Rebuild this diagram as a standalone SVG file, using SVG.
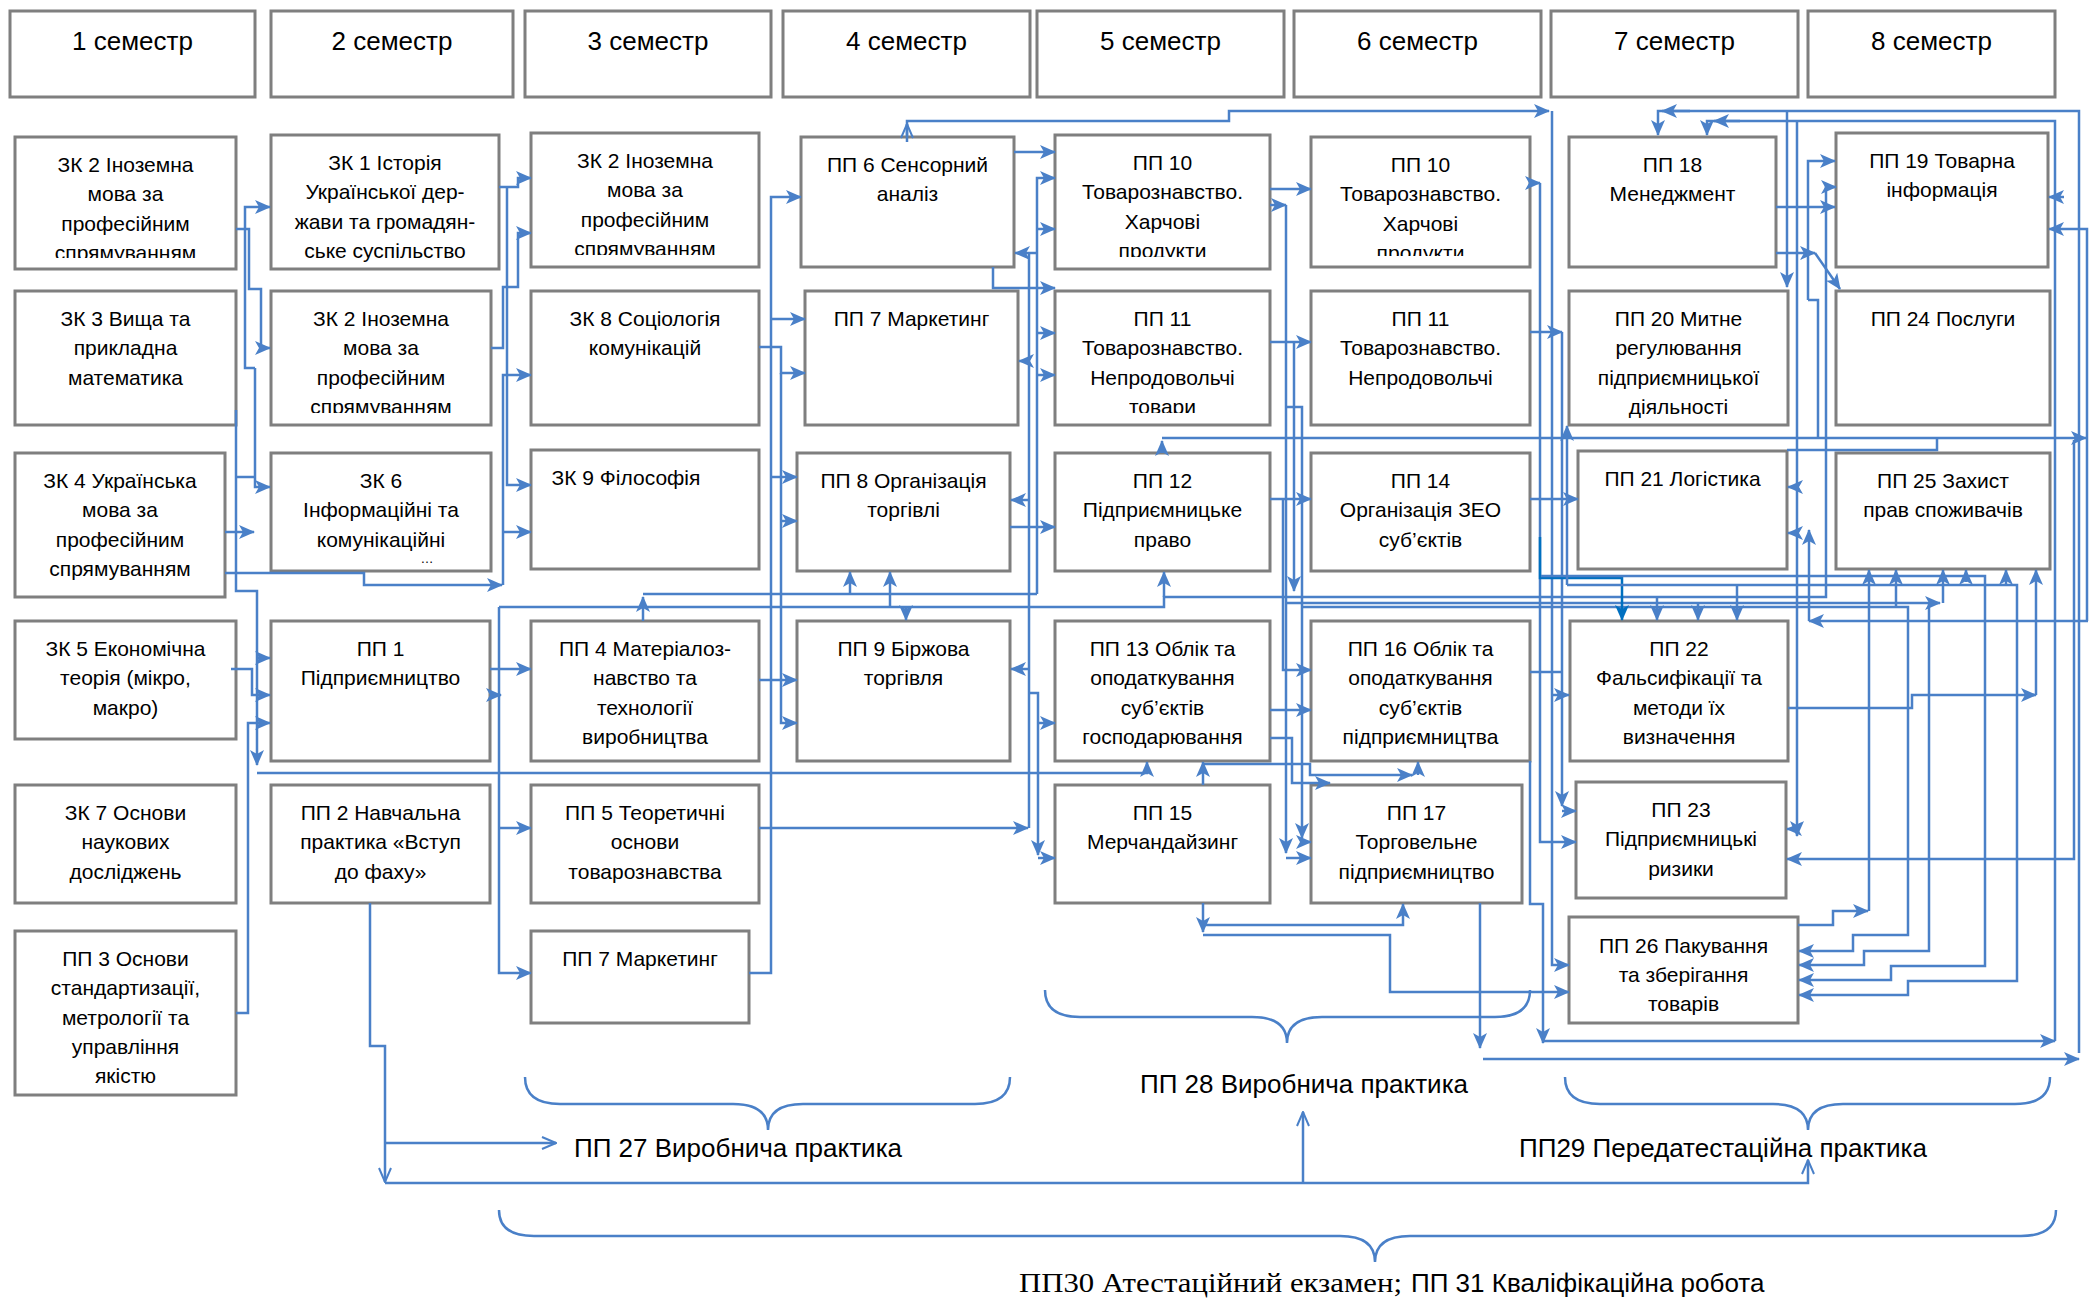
<svg xmlns="http://www.w3.org/2000/svg" width="2089" height="1298" viewBox="0 0 2089 1298">
<style>
.b{fill:#fff;stroke:#7f7f7f;stroke-width:3}
.t{font-family:"Liberation Sans",Arial,sans-serif;font-size:21px;text-anchor:middle;fill:#000}
.h{font-family:"Liberation Sans",Arial,sans-serif;font-size:26px;text-anchor:middle;fill:#000}
.lab{font-family:"Liberation Sans",Arial,sans-serif;font-size:26px;fill:#000}
.c{fill:none;stroke:#4a80c8;stroke-width:2.5;marker-end:url(#a)}
.l{fill:none;stroke:#4a80c8;stroke-width:2.5}
.co{fill:none;stroke:#4a80c8;stroke-width:2.5;marker-end:url(#o)}
.cd{fill:none;stroke:#0070c0;stroke-width:2.5;marker-end:url(#ad)}
.br{fill:none;stroke:#4a80c8;stroke-width:2.5}
</style>
<defs>
<marker id="a" viewBox="0 0 16 14" refX="15" refY="7" markerWidth="16" markerHeight="14" markerUnits="userSpaceOnUse" orient="auto"><path d="M0,0 L16,7 L0,14 L4,7 z" fill="#4a80c8"/></marker>
<marker id="ad" viewBox="0 0 16 14" refX="15" refY="7" markerWidth="16" markerHeight="14" markerUnits="userSpaceOnUse" orient="auto"><path d="M0,0 L16,7 L0,14 L4,7 z" fill="#0070c0"/></marker>
<marker id="o" viewBox="0 0 16 14" refX="15" refY="7" markerWidth="16" markerHeight="14" markerUnits="userSpaceOnUse" orient="auto"><path d="M1,1 L15,7 L1,13" fill="none" stroke="#4a80c8" stroke-width="2"/></marker>
<clipPath id="k1"><rect x="15" y="137" width="221" height="121"/></clipPath>
<clipPath id="k8"><rect x="271" y="291" width="220" height="122"/></clipPath>
<clipPath id="k12"><rect x="531" y="133" width="228" height="122"/></clipPath>
<clipPath id="k22"><rect x="1055" y="135" width="215" height="122"/></clipPath>
<clipPath id="k23"><rect x="1055" y="291" width="215" height="122"/></clipPath>
<clipPath id="k27"><rect x="1311" y="137" width="219" height="119"/></clipPath>
</defs>
<rect width="2089" height="1298" fill="#fff"/>

<g id="semesters">
<g id="s1"><rect class="b" x="10" y="11" width="245" height="86"/><text class="h" x="132.5" y="50">1 семестр</text></g>
<g id="s2"><rect class="b" x="271" y="11" width="242" height="86"/><text class="h" x="392" y="50">2 семестр</text></g>
<g id="s3"><rect class="b" x="525" y="11" width="246" height="86"/><text class="h" x="648" y="50">3 семестр</text></g>
<g id="s4"><rect class="b" x="783" y="11" width="247" height="86"/><text class="h" x="906.5" y="50">4 семестр</text></g>
<g id="s5"><rect class="b" x="1037" y="11" width="247" height="86"/><text class="h" x="1160.5" y="50">5 семестр</text></g>
<g id="s6"><rect class="b" x="1294" y="11" width="247" height="86"/><text class="h" x="1417.5" y="50">6 семестр</text></g>
<g id="s7"><rect class="b" x="1551" y="11" width="247" height="86"/><text class="h" x="1674.5" y="50">7 семестр</text></g>
<g id="s8"><rect class="b" x="1808" y="11" width="247" height="86"/><text class="h" x="1931.5" y="50">8 семестр</text></g>
</g>

<g id="n1"><rect class="b" x="15" y="137" width="221" height="132"/><text class="t" clip-path="url(#k1)"><tspan x="125.5" y="172">ЗК 2 Іноземна</tspan><tspan x="125.5" y="201.3">мова за</tspan><tspan x="125.5" y="230.6">професійним</tspan><tspan x="125.5" y="259.9">спрямуванням</tspan></text></g>
<g id="n2"><rect class="b" x="15" y="291" width="221" height="134"/><text class="t"><tspan x="125.5" y="326">ЗК 3 Вища та</tspan><tspan x="125.5" y="355.3">прикладна</tspan><tspan x="125.5" y="384.6">математика</tspan></text></g>
<g id="n3"><rect class="b" x="15" y="453" width="210" height="144"/><text class="t"><tspan x="120" y="488">ЗК 4 Українська</tspan><tspan x="120" y="517.3">мова за</tspan><tspan x="120" y="546.6">професійним</tspan><tspan x="120" y="575.9">спрямуванням</tspan></text></g>
<g id="n4"><rect class="b" x="15" y="621" width="221" height="118"/><text class="t"><tspan x="125.5" y="656">ЗК 5 Економічна</tspan><tspan x="125.5" y="685.3">теорія (мікро,</tspan><tspan x="125.5" y="714.6">макро)</tspan></text></g>
<g id="n5"><rect class="b" x="15" y="785" width="221" height="118"/><text class="t"><tspan x="125.5" y="820">ЗК 7 Основи</tspan><tspan x="125.5" y="849.3">наукових</tspan><tspan x="125.5" y="878.6">досліджень</tspan></text></g>
<g id="n6"><rect class="b" x="15" y="931" width="221" height="164"/><text class="t"><tspan x="125.5" y="966">ПП 3 Основи</tspan><tspan x="125.5" y="995.3">стандартизації,</tspan><tspan x="125.5" y="1024.6">метрології та</tspan><tspan x="125.5" y="1053.9">управління</tspan><tspan x="125.5" y="1083.2">якістю</tspan></text></g>

<g id="n7"><rect class="b" x="271" y="135" width="228" height="134"/><text class="t"><tspan x="385" y="170">ЗК 1 Історія</tspan><tspan x="385" y="199.3">Української дер-</tspan><tspan x="385" y="228.6">жави та громадян-</tspan><tspan x="385" y="257.9">ське суспільство</tspan></text></g>
<g id="n8"><rect class="b" x="271" y="291" width="220" height="134"/><text class="t" clip-path="url(#k8)"><tspan x="381" y="326">ЗК 2 Іноземна</tspan><tspan x="381" y="355.3">мова за</tspan><tspan x="381" y="384.6">професійним</tspan><tspan x="381" y="413.9">спрямуванням</tspan></text></g>
<g id="n9"><rect class="b" x="271" y="453" width="220" height="118"/><text class="t"><tspan x="381" y="488">ЗК 6</tspan><tspan x="381" y="517.3">Інформаційні та</tspan><tspan x="381" y="546.6">комунікаційні</tspan></text><text class="t" x="427" y="563" style="font-size:13px">…</text></g>
<g id="n10"><rect class="b" x="271" y="621" width="219" height="140"/><text class="t"><tspan x="380.5" y="656">ПП 1</tspan><tspan x="380.5" y="685.3">Підприємництво</tspan></text></g>
<g id="n11"><rect class="b" x="271" y="785" width="219" height="118"/><text class="t"><tspan x="380.5" y="820">ПП 2 Навчальна</tspan><tspan x="380.5" y="849.3">практика «Вступ</tspan><tspan x="380.5" y="878.6">до фаху»</tspan></text></g>

<g id="n12"><rect class="b" x="531" y="133" width="228" height="134"/><text class="t" clip-path="url(#k12)"><tspan x="645" y="168">ЗК 2 Іноземна</tspan><tspan x="645" y="197.3">мова за</tspan><tspan x="645" y="226.6">професійним</tspan><tspan x="645" y="255.9">спрямуванням</tspan></text></g>
<g id="n13"><rect class="b" x="531" y="291" width="228" height="134"/><text class="t"><tspan x="645" y="326">ЗК 8 Соціологія</tspan><tspan x="645" y="355.3">комунікацій</tspan></text></g>
<g id="n14"><rect class="b" x="531" y="450" width="228" height="119"/><text class="t" x="626" y="485">ЗК 9 Філософія</text></g>
<g id="n15"><rect class="b" x="531" y="621" width="228" height="140"/><text class="t"><tspan x="645" y="656">ПП 4 Матеріалоз-</tspan><tspan x="645" y="685.3">навство та</tspan><tspan x="645" y="714.6">технології</tspan><tspan x="645" y="743.9">виробництва</tspan></text></g>
<g id="n16"><rect class="b" x="531" y="785" width="228" height="118"/><text class="t"><tspan x="645" y="820">ПП 5 Теоретичні</tspan><tspan x="645" y="849.3">основи</tspan><tspan x="645" y="878.6">товарознавства</tspan></text></g>
<g id="n17"><rect class="b" x="531" y="931" width="218" height="92"/><text class="t" x="640" y="966">ПП 7 Маркетинг</text></g>

<g id="n18"><rect class="b" x="801" y="137" width="213" height="130"/><text class="t"><tspan x="907.5" y="172">ПП 6 Сенсорний</tspan><tspan x="907.5" y="201.3">аналіз</tspan></text></g>
<g id="n19"><rect class="b" x="805" y="291" width="213" height="134"/><text class="t" x="911.5" y="326">ПП 7 Маркетинг</text></g>
<g id="n20"><rect class="b" x="797" y="453" width="213" height="118"/><text class="t"><tspan x="903.5" y="488">ПП 8 Організація</tspan><tspan x="903.5" y="517.3">торгівлі</tspan></text></g>
<g id="n21"><rect class="b" x="797" y="621" width="213" height="140"/><text class="t"><tspan x="903.5" y="656">ПП 9 Біржова</tspan><tspan x="903.5" y="685.3">торгівля</tspan></text></g>

<g id="n22"><rect class="b" x="1055" y="135" width="215" height="134"/><text class="t" clip-path="url(#k22)"><tspan x="1162.5" y="170">ПП 10</tspan><tspan x="1162.5" y="199.3">Товарознавство.</tspan><tspan x="1162.5" y="228.6">Харчові</tspan><tspan x="1162.5" y="257.9">продукти</tspan></text></g>
<g id="n23"><rect class="b" x="1055" y="291" width="215" height="134"/><text class="t" clip-path="url(#k23)"><tspan x="1162.5" y="326">ПП 11</tspan><tspan x="1162.5" y="355.3">Товарознавство.</tspan><tspan x="1162.5" y="384.6">Непродовольчі</tspan><tspan x="1162.5" y="413.9">товари</tspan></text></g>
<g id="n24"><rect class="b" x="1055" y="453" width="215" height="118"/><text class="t"><tspan x="1162.5" y="488">ПП 12</tspan><tspan x="1162.5" y="517.3">Підприємницьке</tspan><tspan x="1162.5" y="546.6">право</tspan></text></g>
<g id="n25"><rect class="b" x="1055" y="621" width="215" height="140"/><text class="t"><tspan x="1162.5" y="656">ПП 13 Облік та</tspan><tspan x="1162.5" y="685.3">оподаткування</tspan><tspan x="1162.5" y="714.6">суб’єктів</tspan><tspan x="1162.5" y="743.9">господарювання</tspan></text></g>
<g id="n26"><rect class="b" x="1055" y="785" width="215" height="118"/><text class="t"><tspan x="1162.5" y="820">ПП 15</tspan><tspan x="1162.5" y="849.3">Мерчандайзинг</tspan></text></g>

<g id="n27"><rect class="b" x="1311" y="137" width="219" height="130"/><text class="t" clip-path="url(#k27)"><tspan x="1420.5" y="172">ПП 10</tspan><tspan x="1420.5" y="201.3">Товарознавство.</tspan><tspan x="1420.5" y="230.6">Харчові</tspan><tspan x="1420.5" y="259.9">продукти</tspan></text></g>
<g id="n28"><rect class="b" x="1311" y="291" width="219" height="134"/><text class="t"><tspan x="1420.5" y="326">ПП 11</tspan><tspan x="1420.5" y="355.3">Товарознавство.</tspan><tspan x="1420.5" y="384.6">Непродовольчі</tspan></text></g>
<g id="n29"><rect class="b" x="1311" y="453" width="219" height="118"/><text class="t"><tspan x="1420.5" y="488">ПП 14</tspan><tspan x="1420.5" y="517.3">Організація ЗЕО</tspan><tspan x="1420.5" y="546.6">суб’єктів</tspan></text></g>
<g id="n30"><rect class="b" x="1311" y="621" width="219" height="140"/><text class="t"><tspan x="1420.5" y="656">ПП 16 Облік та</tspan><tspan x="1420.5" y="685.3">оподаткування</tspan><tspan x="1420.5" y="714.6">суб’єктів</tspan><tspan x="1420.5" y="743.9">підприємництва</tspan></text></g>
<g id="n31"><rect class="b" x="1311" y="785" width="211" height="118"/><text class="t"><tspan x="1416.5" y="820">ПП 17</tspan><tspan x="1416.5" y="849.3">Торговельне</tspan><tspan x="1416.5" y="878.6">підприємництво</tspan></text></g>

<g id="n32"><rect class="b" x="1569" y="137" width="207" height="130"/><text class="t"><tspan x="1672.5" y="172">ПП 18</tspan><tspan x="1672.5" y="201.3">Менеджмент</tspan></text></g>
<g id="n33"><rect class="b" x="1569" y="291" width="219" height="134"/><text class="t"><tspan x="1678.5" y="326">ПП 20 Митне</tspan><tspan x="1678.5" y="355.3">регулювання</tspan><tspan x="1678.5" y="384.6">підприємницької</tspan><tspan x="1678.5" y="413.9">діяльності</tspan></text></g>
<g id="n34"><rect class="b" x="1578" y="451" width="209" height="118"/><text class="t" x="1682.5" y="486">ПП 21 Логістика</text></g>
<g id="n35"><rect class="b" x="1570" y="621" width="218" height="140"/><text class="t"><tspan x="1679" y="656">ПП 22</tspan><tspan x="1679" y="685.3">Фальсифікації та</tspan><tspan x="1679" y="714.6">методи їх</tspan><tspan x="1679" y="743.9">визначення</tspan></text></g>
<g id="n36"><rect class="b" x="1576" y="782" width="210" height="116"/><text class="t"><tspan x="1681" y="817">ПП 23</tspan><tspan x="1681" y="846.3">Підприємницькі</tspan><tspan x="1681" y="875.6">ризики</tspan></text></g>
<g id="n37"><rect class="b" x="1569" y="917" width="229" height="106"/><text class="t"><tspan x="1683.5" y="953">ПП 26 Пакування</tspan><tspan x="1683.5" y="982">та зберігання</tspan><tspan x="1683.5" y="1011">товарів</tspan></text></g>

<g id="n38"><rect class="b" x="1836" y="133" width="212" height="134"/><text class="t"><tspan x="1942" y="168">ПП 19 Товарна</tspan><tspan x="1942" y="197.3">інформація</tspan></text></g>
<g id="n39"><rect class="b" x="1836" y="291" width="214" height="134"/><text class="t" x="1943" y="326">ПП 24 Послуги</text></g>
<g id="n40"><rect class="b" x="1836" y="453" width="214" height="116"/><text class="t"><tspan x="1943" y="488">ПП 25 Захист</tspan><tspan x="1943" y="517.3">прав споживачів</tspan></text></g>

<g id="connectors">
<path class="c" d="M236,229 H249 V289 H261 V348 H270"/>
<path class="c" d="M255,368 H245 V207 H270"/>
<path class="c" d="M255,368 V487 H270"/>
<path class="l" d="M235,477 H255"/>
<path class="c" d="M225,532 H254"/>
<path class="c" d="M236,410 V591 H257 V765"/>
<path class="c" d="M257,658 H270"/>
<path class="c" d="M257,773 H1147 V762"/>
<path class="c" d="M231,669 H252 V695 H270"/>
<path class="c" d="M236,1013 H248 V723 H270"/>
<path class="c" d="M225,573 H364 V585 H502"/>

<path class="c" d="M499,187 H518 V178 H531"/>
<path class="c" d="M491,348 H503 V287 H518 V233 H531"/>
<path class="c" d="M507,187 V485 H531"/>
<path class="c" d="M503,585 V375 H531"/>
<path class="c" d="M503,532 H531"/>
<path class="c" d="M499,607 V973 H531"/>
<path class="c" d="M499,828 H531"/>
<path class="c" d="M490,669 H531"/>
<path class="c" d="M490,695 H501"/>

<path class="c" d="M499,607 H1164 V597 H1826 V187 H1836"/>
<path class="c" d="M890,607 V572"/>
<path class="c" d="M906,607 V620"/>
<path class="c" d="M1164,597 V572"/>
<path class="c" d="M643,621 V597"/>
<path class="l" d="M643,594 H1037"/>
<path class="c" d="M850,594 V572"/>

<path class="c" d="M749,973 H771 V197 H801"/>
<path class="c" d="M771,319 H805"/>
<path class="c" d="M771,477 H797"/>
<path class="c" d="M759,347 H781 V373 H805"/>
<path class="c" d="M781,373 V723 H797"/>
<path class="c" d="M781,521 H797"/>
<path class="c" d="M759,680 H797"/>
<path class="c" d="M759,828 H1028"/>

<path class="c" d="M1014,152 H1055"/>
<path class="c" d="M993,267 V288 H1055"/>
<path class="c" d="M1037,594 V178 H1055"/>
<path class="c" d="M1037,229 H1055"/>
<path class="c" d="M1037,333 H1055"/>
<path class="c" d="M1037,375 H1055"/>
<path class="c" d="M1037,253 H1015"/>
<path class="l" d="M1029,828 V253"/>
<path class="c" d="M1029,361 H1019"/>
<path class="c" d="M1029,500 H1011"/>
<path class="c" d="M1029,669 H1011"/>
<path class="c" d="M1010,527 H1055"/>
<path class="c" d="M1029,693 H1038 V855"/>
<path class="c" d="M1038,723 H1055"/>
<path class="c" d="M1038,858 H1055"/>

<path class="c" d="M907,137 V121 H1229 V111 H1549"/>
<path class="co" d="M907,142 V124"/>

<path class="c" d="M1270,189 H1311"/>
<path class="c" d="M1270,205 H1286"/>
<path class="c" d="M1286,205 V853"/>
<path class="c" d="M1286,858 H1311"/>
<path class="c" d="M1286,407 H1302 V838"/>
<path class="c" d="M1302,842 H1311"/>
<path class="c" d="M1302,607 H1908 V935 H1853 V951 H1799"/>
<path class="c" d="M1270,342 H1311"/>
<path class="c" d="M1294,342 V591"/>
<path class="c" d="M1287,603 H1940"/>
<path class="c" d="M1943,603 V570"/>
<path class="c" d="M1929,603 V951 H1864 V965 H1799"/>
<path class="c" d="M1270,499 H1311"/>
<path class="c" d="M1283,499 V670 H1311"/>
<path class="c" d="M1270,710 H1311"/>
<path class="c" d="M1270,738 H1292 V783 H1330"/>
<path class="c" d="M1203,785 V762"/>
<path class="c" d="M1203,764 H1310 V775 H1412"/>
<path class="c" d="M1418,775 V762"/>
<path class="c" d="M1203,903 V932"/>
<path class="c" d="M1203,925 H1403 V904"/>
<path class="c" d="M1203,935 H1390 V992 H1569"/>
<path class="c" d="M1480,903 V1048"/>
<path class="c" d="M1483,1059 H2079"/>

<path class="c" d="M1530,183 H1540"/>
<path class="c" d="M1540,183 V842 H1576"/>
<path class="c" d="M1530,332 H1562"/>
<path class="c" d="M1562,332 V806"/>
<path class="l" d="M1530,672 H1562"/>
<path class="c" d="M1562,811 H1576"/>
<path class="c" d="M1552,111 V965 H1569"/>
<path class="c" d="M1552,695 H1569"/>
<path class="c" d="M1530,499 H1578"/>
<path class="cd" d="M1540,537 V578 H1622 V620"/>
<path class="c" d="M1567,585 V426"/>
<path class="c" d="M1567,585 H2017 V981 H1908 V995 H1799"/>
<path class="c" d="M2006,585 V570"/>
<path class="c" d="M1541,576 H1985 V966 H1891 V980 H1799"/>
<path class="c" d="M1966,582 V570"/>
<path class="c" d="M1530,761 V904 H1543 V1043"/>
<path class="c" d="M1543,1041 H2055"/>

<path class="c" d="M1657,597 V620"/>
<path class="c" d="M1698,603 V620"/>
<path class="c" d="M1737,585 V620"/>
<path class="c" d="M1896,607 V570"/>
<path class="c" d="M1788,708 H1912 V695 H2036"/>
<path class="c" d="M2036,695 V570"/>
<path class="c" d="M1798,925 H1833 V911 H1868"/>
<path class="c" d="M1869,911 V570"/>
<path class="c" d="M1776,207 H1835"/>
<path class="c" d="M1776,253 H1815"/>
<path class="c" d="M1815,253 L1840,289"/>
<path class="c" d="M1808,300 V161 H1835"/>
<path class="l" d="M1808,300 H1818 V438"/>
<path class="c" d="M1162,453 V441"/>
<path class="c" d="M1162,438 H2086"/>
<path class="l" d="M1787,450 H1937 V438"/>
<path class="c" d="M1787,111 V287"/>
<path class="c" d="M1797,121 V836"/>
<path class="c" d="M1797,829 H1787"/>
<path class="c" d="M1797,487 H1788"/>
<path class="c" d="M1797,533 H1788"/>
<path class="c" d="M2079,1053 V111 H1658 V135"/>
<path class="c" d="M1690,111 H1662"/>
<path class="c" d="M2055,1041 V121 H1707 V135"/>
<path class="c" d="M1740,121 H1714"/>
<path class="c" d="M2064,197 H2049"/>
<path class="c" d="M2088,621 H1809"/>
<path class="c" d="M1809,621 V530"/>
<path class="c" d="M2087,621 V229 H2049"/>
<path class="c" d="M2074,440 V859 H1787"/>

<path class="co" d="M370,903 V1046 H385 V1182"/>
<path class="co" d="M385,1143 H556"/>
<path class="co" d="M385,1183 H1808 V1160"/>
<path class="co" d="M1303,1183 V1112"/>
</g>

<g id="braces">
<path class="br" d="M525,1077 Q525,1104 560,1104 L733,1104 Q768,1104 768,1130 Q768,1104 803,1104 L975,1104 Q1010,1104 1010,1077"/>
<path class="br" d="M1045,990 Q1045,1017 1080,1017 L1252,1017 Q1287,1017 1287,1043 Q1287,1017 1322,1017 L1495,1017 Q1530,1017 1530,990"/>
<path class="br" d="M1565,1077 Q1565,1104 1600,1104 L1773,1104 Q1808,1104 1808,1130 Q1808,1104 1843,1104 L2015,1104 Q2050,1104 2050,1077"/>
<path class="br" d="M499,1210 Q499,1236 534,1236 L1340,1236 Q1375,1236 1375,1262 Q1375,1236 1410,1236 L2021,1236 Q2056,1236 2056,1210"/>
</g>

<g id="labels">
<text class="lab" x="574" y="1157">ПП 27 Виробнича практика</text>
<text class="lab" x="1140" y="1093">ПП 28 Виробнича практика</text>
<text class="lab" x="1519" y="1157">ПП29 Передатестаційна практика</text>
<text y="1292"><tspan x="1019" style="font-family:'Liberation Serif','Times New Roman',serif;font-size:28px" textLength="383" lengthAdjust="spacingAndGlyphs">ПП30 Атестаційний екзамен;</tspan><tspan x="1411" class="lab">ПП 31 Кваліфікаційна робота</tspan></text>
</g>
</svg>
